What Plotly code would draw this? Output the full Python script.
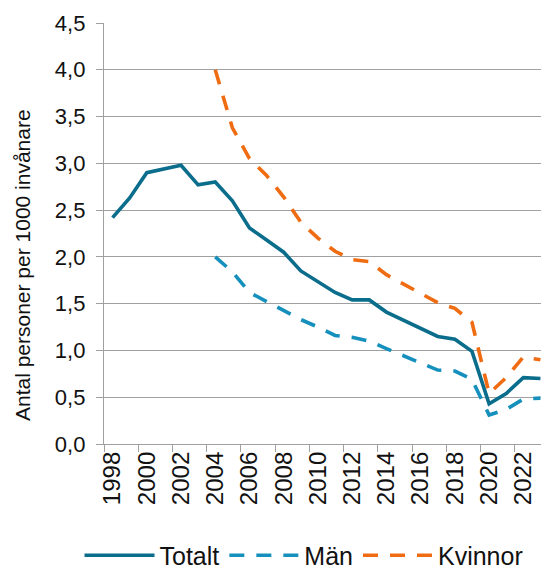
import plotly.graph_objects as go

# ---- data ----
years = list(range(1998, 2024))
totalt = [2.42, 2.63, 2.90, 2.94, 2.98, 2.77, 2.80, 2.60, 2.31, 2.18,
          2.05, 1.85, 1.73, 1.62, 1.54, 1.54, 1.41, 1.32, 1.23, 1.15,
          1.12, 0.99, 0.43, 0.54, 0.71, 0.70]

years_kon = list(range(2004, 2024))
man = [2.00, 1.84, 1.62, 1.52, 1.43, 1.33, 1.25, 1.16, 1.14, 1.10,
       1.02, 0.94, 0.87, 0.79, 0.78, 0.69, 0.31, 0.37, 0.48, 0.49]
kvinnor = [4.00, 3.38, 3.05, 2.87, 2.64, 2.37, 2.20, 2.06, 1.97, 1.95,
           1.81, 1.71, 1.61, 1.51, 1.45, 1.30, 0.54, 0.71, 0.93, 0.90]

x_label_years = list(range(1998, 2023, 2))
x_tick_labels = [str(y) for y in x_label_years]
y_tick_values = [0, 0.5, 1.0, 1.5, 2.0, 2.5, 3.0, 3.5, 4.0, 4.5]
y_title = "Antal personer per 1000 invånare"

# ---- styles ----
C_TOT = "#0B6D8C"
C_MAN = "#1590BD"
C_KVI = "#EF6C12"
GRID = "#A0A0A0"
FONT = "Liberation Sans, Arial, sans-serif"

fig = go.Figure()
fig.add_trace(go.Scatter(x=years, y=totalt, name="Totalt", mode="lines",
                         line=dict(color=C_TOT, width=3.6)))
fig.add_trace(go.Scatter(x=years_kon, y=man, name="Män", mode="lines",
                         line=dict(color=C_MAN, width=3.6, dash="15px,12px")))
fig.add_trace(go.Scatter(x=years_kon, y=kvinnor, name="Kvinnor", mode="lines",
                         line=dict(color=C_KVI, width=3.6, dash="15px,12px")))

minor_ticks = [y - 0.5 for y in range(1998, 2025, 2)]

# the page body adds an 8px offset, so the figure is 8px smaller than the window
fig.update_layout(
    width=541, height=561,
    margin=dict(l=96, r=0, t=15, b=124.5, autoexpand=False),
    plot_bgcolor="white", paper_bgcolor="white",
    font=dict(family=FONT, size=21, color="#111111"),
    separators=", ",
    showlegend=True,
    legend=dict(orientation="h", x=-0.055, xanchor="left", y=-0.265, yanchor="middle",
                itemwidth=70, font=dict(size=25), bgcolor="rgba(0,0,0,0)",
                tracegroupgap=0),
    xaxis=dict(range=[1997.5, 2023.5], tickmode="array", tickvals=x_label_years,
               ticktext=x_tick_labels, tickangle=-90, ticks="", showgrid=False,
               showline=True, linecolor=GRID, linewidth=1.3, zeroline=False,
               automargin=False, tickfont=dict(size=24), ticklabelstandoff=-3,
               minor=dict(tickmode="array", tickvals=minor_ticks, ticks="outside",
                          ticklen=7, tickwidth=1.3, tickcolor=GRID, showgrid=False)),
    yaxis=dict(range=[0, 4.5], tickmode="array", tickvals=y_tick_values,
               tickformat=".1f", ticks="outside", ticklen=7, tickwidth=1.3,
               tickcolor=GRID, showgrid=True, gridcolor=GRID, gridwidth=1.3,
               showline=True, linecolor=GRID, linewidth=1.3, zeroline=False,
               automargin=False, ticklabelstandoff=6, tickfont=dict(size=22)),
    annotations=[dict(text=y_title, textangle=-90, xref="paper", yref="paper",
                      x=-0.183, y=0.424, xanchor="center", yanchor="middle",
                      showarrow=False, font=dict(size=21))],
)

fig.write_html("out.html")
